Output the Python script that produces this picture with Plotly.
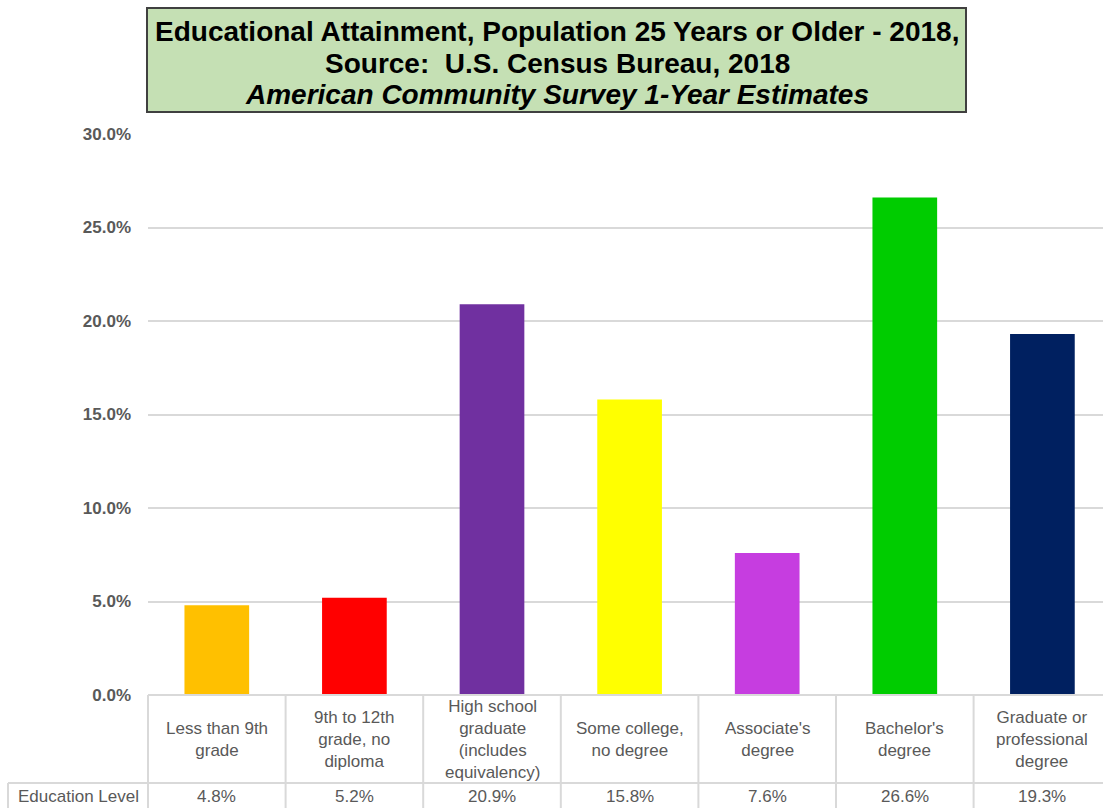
import plotly.graph_objects as go

# Educational attainment shares, population 25 years or older (2018 ACS 1-year)
categories = [
    "Less than 9th<br>grade",
    "9th to 12th<br>grade, no<br>diploma",
    "High school<br>graduate<br>(includes<br>equivalency)",
    "Some college,<br>no degree",
    "Associate's<br>degree",
    "Bachelor's<br>degree",
    "Graduate or<br>professional<br>degree",
]
values = [4.8, 5.2, 20.9, 15.8, 7.6, 26.6, 19.3]
bar_colors = ["#FFC000", "#FF0000", "#7030A0", "#FFFF00", "#C63DE0", "#00CC00", "#002060"]
row_label = "Education Level"
title_lines = [
    "<b>Educational Attainment, Population 25 Years or Older - 2018,</b>",
    "<b>Source:  U.S. Census Bureau, 2018</b>",
    "<b><i>American Community Survey 1-Year Estimates</i></b>",
]
y_ticks = [0, 5, 10, 15, 20, 25, 30]

W, H = 1103, 808
ML, MT, MB = 148, 134, 113
plot_w = W - ML
plot_h = H - MT - MB
cell_w = 137.6  # width of one category column in pixels
x_end = -0.5 + plot_w / cell_w

def py(pixel_y):
    """Convert a pixel row to paper y."""
    return (H - MB - pixel_y) / plot_h

def px(pixel_x):
    """Convert a pixel column to paper x."""
    return (pixel_x - ML) / plot_w

FONT = "Liberation Sans, Arial, sans-serif"
GRID = "#D9D9D9"
TEXT = "#595959"

xs = list(range(len(categories)))

fig = go.Figure(
    go.Bar(
        x=xs,
        y=values,
        width=0.47,
        marker=dict(color=bar_colors, line=dict(width=0)),
        hoverinfo="skip",
    )
)

shapes = []
annotations = []

# title box
shapes.append(dict(type="rect", xref="paper", yref="paper",
                   x0=px(147), x1=px(966), y0=py(112), y1=py(8),
                   fillcolor="#C5E0B4", line=dict(color="#404040", width=2), layer="above"))
for line, ypix in zip(title_lines, [31, 63, 95]):
    annotations.append(dict(text=line, xref="paper", yref="paper",
                            x=px(557), y=py(ypix), xanchor="center", yanchor="middle",
                            showarrow=False, font=dict(family=FONT, size=28, color="#000000")))

# data table below the axis
row_top, row_mid, row_bot = 695, 783, 830
shapes.append(dict(type="line", xref="paper", yref="paper",
                   x0=0, x1=1, y0=py(row_top), y1=py(row_top),
                   line=dict(color=GRID, width=2)))
shapes.append(dict(type="line", xref="paper", yref="paper",
                   x0=px(8), x1=1, y0=py(row_mid), y1=py(row_mid),
                   line=dict(color=GRID, width=2)))
shapes.append(dict(type="line", xref="paper", yref="paper",
                   x0=px(148), x1=px(148), y0=py(row_top), y1=py(row_bot),
                   line=dict(color=GRID, width=2)))
shapes.append(dict(type="line", xref="paper", yref="paper",
                   x0=px(8), x1=px(8), y0=py(row_mid), y1=py(row_bot),
                   line=dict(color=GRID, width=2)))
for i in xs[1:]:
    shapes.append(dict(type="line", xref="x", yref="paper",
                       x0=i - 0.5, x1=i - 0.5, y0=py(row_top), y1=py(row_bot),
                       line=dict(color=GRID, width=2)))

for i, (cat, val) in enumerate(zip(categories, values)):
    annotations.append(dict(text=cat, xref="x", yref="paper", x=i, y=py(739),
                            xanchor="center", yanchor="middle", showarrow=False,
                            font=dict(family=FONT, size=17, color=TEXT)))
    annotations.append(dict(text=f"{val:.1f}%", xref="x", yref="paper", x=i, y=py(796),
                            xanchor="center", yanchor="middle", showarrow=False,
                            font=dict(family=FONT, size=17, color=TEXT)))
annotations.append(dict(text=row_label, xref="paper", yref="paper", x=px(78), y=py(796),
                        xanchor="center", yanchor="middle", showarrow=False,
                        font=dict(family=FONT, size=17, color=TEXT)))

fig.update_layout(
    width=W, height=H,
    margin=dict(l=ML, r=0, t=MT, b=MB, pad=0),
    paper_bgcolor="white", plot_bgcolor="white",
    showlegend=False,
    shapes=shapes,
    annotations=annotations,
    xaxis=dict(range=[-0.5, x_end], showticklabels=False, showgrid=False,
               zeroline=False, showline=False, ticks="", fixedrange=True),
    yaxis=dict(range=[0, 30], tickvals=y_ticks,
               ticktext=[f"<b>{v:.1f}%</b>" for v in y_ticks],
               showgrid=True, gridcolor=GRID, gridwidth=2,
               zeroline=False, showline=False, ticks="",
               ticklabelstandoff=16,
               tickfont=dict(family=FONT, size=17, color=TEXT), fixedrange=True),
)

fig.write_html("out.html", config={"displayModeBar": False})
